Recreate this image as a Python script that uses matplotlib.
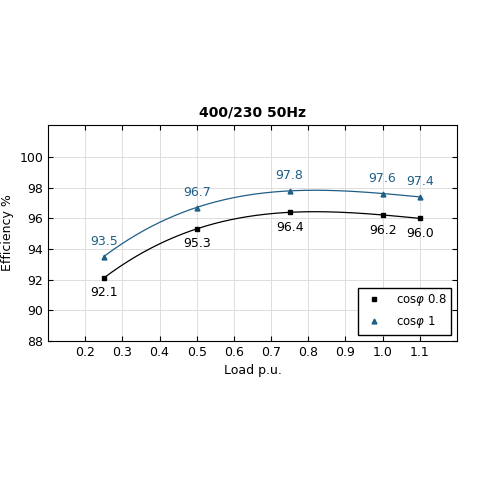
import matplotlib
matplotlib.use("Agg")
import matplotlib.pyplot as plt
import numpy as np

load = [0.25, 0.5, 0.75, 1.0, 1.1]
eff_08 = [92.1, 95.3, 96.4, 96.2, 96.0]
eff_1 = [93.5, 96.7, 97.8, 97.6, 97.4]
xticks = [0.2, 0.3, 0.4, 0.5, 0.6, 0.7, 0.8, 0.9, 1.0, 1.1]
yticks = [88, 90, 92, 94, 96, 98, 100]

fig = plt.figure(figsize=(4.8, 4.8), dpi=100)
ax = fig.add_axes([0.1, 0.29, 0.852, 0.45])
c1, c2 = "black", "#1f5f86"
for y, c, m, lab, off in [(eff_08, c1, "s", "cos$\\varphi$ 0.8", -1), (eff_1, c2, "^", "cos$\\varphi$ 1", 1)]:
    p = np.polyfit(load, y, 3)
    xs = np.linspace(load[0], load[-1], 200)
    ax.plot(xs, np.polyval(p, xs), color=c, lw=0.9)
    ax.plot(load, y, m, color=c, ms=3.5, ls="none", label=lab)
    for xv, yv in zip(load, y):
        ax.text(xv, yv + off * 0.55, f"{yv:.1f}", color=c, fontsize=9,
                ha="center", va="bottom" if off > 0 else "top")
ax.set_xlim(0.1, 1.2)
ax.set_ylim(88, 102.1)
ax.set_xticks(xticks)
ax.set_yticks(yticks)
ax.tick_params(direction="in", labelsize=9, top=True, right=True)
ax.grid(color="#dddddd", lw=0.7)
ax.set_xlabel("Load p.u.", fontsize=9)
ax.set_ylabel("Efficiency %", fontsize=9)
ax.set_title("400/230 50Hz", fontsize=10, fontweight="bold")
ax.legend(loc="lower right", fontsize=8.5, fancybox=False, edgecolor="black", framealpha=1)
fig.savefig("out.png", dpi=100)
